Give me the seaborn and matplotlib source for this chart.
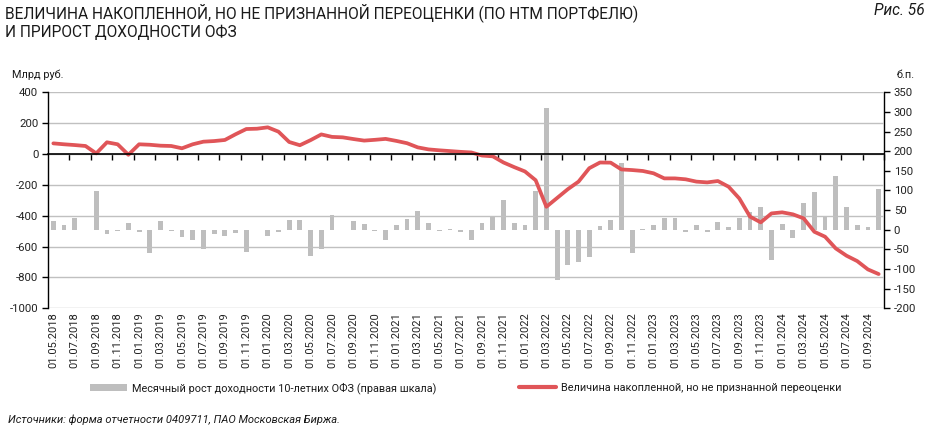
import matplotlib
matplotlib.use("Agg")
import matplotlib.pyplot as plt
import seaborn as sns
import pandas as pd
import numpy as np
from matplotlib.ticker import FixedLocator, FixedFormatter
from matplotlib.patches import Patch
from matplotlib.lines import Line2D

# ---------------- data ----------------
# monthly, 05.2018 .. 10.2024 (78 months)
yield_growth_bp = [23, 13, 31, 0, 98, -12, -2, 16, -5, -58, 22, -2, -18, -25,
                   -49, -10, -17, -7, -56, -1, -17, -5, 25, 25, -66, -48, 37,
                   -1, 22, 15, -3, -27, 13, 28, 48, 17, -2, 2, -5, -27, 17,
                   32, 76, 16, 13, 98, 310, -129, -90, -83, -69, 10, 24, 169,
                   -60, 1, 12, 29, 29, -5, 11, -5, 19, 8, 30, 46, 57, -76,
                   14, -22, 68, 96, 35, 138, 57, 11, 8, 104]

revaluation_bn = [69, 63, 58, 52, 4, 76, 63, -5, 63, 60, 54, 52, 37, 63,
                  80, 84, 91, 128, 162, 164, 173, 145, 78, 57, 90, 127, 111,
                  108, 97, 87, 92, 98, 85, 70, 43, 30, 24, 19, 14, 10, -10,
                  -15, -55, -85, -113, -170, -342, -285, -228, -179, -92, -55, -56, -100,
                  -104, -110, -125, -158, -158, -164, -179, -184, -175, -212, -288, -406, -443, -385,
                  -378, -391, -417, -504, -536, -612, -659, -694, -748, -778]

tick_labels = ["01.05.2018", "01.07.2018", "01.09.2018", "01.11.2018",
               "01.01.2019", "01.03.2019", "01.05.2019", "01.07.2019", "01.09.2019", "01.11.2019",
               "01.01.2020", "01.03.2020", "01.05.2020", "01.07.2020", "01.09.2020", "01.11.2020",
               "01.01.2021", "01.03.2021", "01.05.2021", "01.07.2021", "01.09.2021", "01.11.2021",
               "01.01.2022", "01.03.2022", "01.05.2022", "01.07.2022", "01.09.2022", "01.11.2022",
               "01.01.2023", "01.03.2023", "01.05.2023", "01.07.2023", "01.09.2023", "01.11.2023",
               "01.01.2024", "01.03.2024", "01.05.2024", "01.07.2024", "01.09.2024"]

bar_label = "Месячный рост доходности 10-летних ОФЗ (правая шкала)"
line_label = "Величина накопленной, но не признанной переоценки"

BAR_COLOR = "#BEBEBE"
LINE_COLOR = "#E05558"
GRID_COLOR = "#C0C0C0"

df = pd.DataFrame({"pos": np.arange(len(yield_growth_bp)),
                   "bp": yield_growth_bp,
                   "bn": revaluation_bn})

# ---------------- figure ----------------
sns.set_theme(style="white")
plt.rcParams["font.family"] = ["Roboto", "DejaVu Sans"]

fig = plt.figure(figsize=(9.31, 4.40), dpi=100)
ax = fig.add_axes([48 / 931, 1 - 308.3 / 440, (884 - 48) / 931, (308.3 - 92.3) / 440])
ax2 = ax.twinx()

# bars on right axis
sns.barplot(data=df, x="pos", y="bp", ax=ax2, color=BAR_COLOR, saturation=1,
            width=0.45, linewidth=0)
# line on left axis
sns.lineplot(data=df, x="pos", y="bn", ax=ax, color=LINE_COLOR, lw=2.7,
             solid_capstyle="round", solid_joinstyle="round")

ax.set_zorder(2)
ax.patch.set_visible(False)
ax2.set_zorder(1)

n = len(df)
ax.set_xlim(-0.5, n - 0.5)
ax.set_ylim(-1000, 400)
ax2.set_ylim(-200, 350)

# x ticks: labels every 2 months (centers), tick marks at boundaries on zero line
ax.xaxis.set_major_locator(FixedLocator(np.arange(0, n, 2)))
ax.xaxis.set_major_formatter(FixedFormatter(tick_labels))
ax.xaxis.set_minor_locator(FixedLocator(np.arange(1.5, n, 2)))

ax.spines["bottom"].set_position(("data", 0))
ax.spines["bottom"].set_color("black")
ax.spines["bottom"].set_linewidth(1.2)
ax.spines["bottom"].set_zorder(3)
ax.tick_params(axis="x", which="major", length=0, labelbottom=False)
ax.tick_params(axis="x", which="minor", length=4, width=1, color="black",
               direction="out", bottom=True)

ax2.xaxis.set_visible(True)
ax2.tick_params(axis="x", which="both", length=0, labelbottom=True,
                labelrotation=90, labelsize=8, pad=3, colors="#222222")

# y axes
ax.set_yticks(np.arange(-1000, 401, 200))
ax.set_yticklabels([str(v) for v in range(-1000, 401, 200)])
ax.tick_params(axis="y", length=4, width=1, color="black", direction="out",
               labelsize=8.2, pad=3, left=True, labelcolor="#222222")
ax2.set_yticks(np.arange(-200, 351, 50))
ax2.set_yticklabels([str(v) for v in range(-200, 351, 50)])
ax2.tick_params(axis="y", length=4, width=1, color="black", direction="out",
                labelsize=8.2, pad=3, right=True, labelcolor="#222222")

ax.yaxis.grid(True, color=GRID_COLOR, lw=1)
ax.xaxis.grid(False)
ax2.grid(False)

for s in ["top", "right"]:
    ax.spines[s].set_visible(False)
ax.spines["left"].set_color("black")
ax.spines["left"].set_linewidth(1)
for s in ["top", "left", "bottom"]:
    ax2.spines[s].set_visible(False)
ax2.spines["right"].set_visible(True)
ax2.spines["right"].set_color("black")
ax2.spines["right"].set_linewidth(1)

ax.set_xlabel("")
ax.set_ylabel("")
ax2.set_xlabel("")
ax2.set_ylabel("")

# ---------------- texts ----------------
fig.text(5 / 931, 1 - 3 / 440,
         "ВЕЛИЧИНА НАКОПЛЕННОЙ, НО НЕ ПРИЗНАННОЙ ПЕРЕОЦЕНКИ (ПО НТМ ПОРТФЕЛЮ)\nИ ПРИРОСТ ДОХОДНОСТИ ОФЗ",
         ha="left", va="top", fontsize=11.2, color="#1a1a1a", linespacing=1.2)
fig.text(925 / 931, 1 - 3 / 440, "Рис. 56", ha="right", va="top",
         fontsize=11.2, style="italic", color="#1a1a1a")
fig.text(12 / 931, 1 - 75 / 440, "Млрд руб.", ha="left", va="center",
         fontsize=7.8, color="#1a1a1a")
fig.text(906 / 931, 1 - 75 / 440, "б.п.", ha="center", va="center",
         fontsize=7.8, color="#1a1a1a")
fig.text(8 / 931, 1 - 420 / 440,
         "Источники: форма отчетности 0409711, ПАО Московская Биржа.",
         ha="left", va="center", fontsize=8, style="italic", color="#1a1a1a")

handles = [Patch(facecolor=BAR_COLOR, edgecolor="none"),
           Line2D([0], [0], color=LINE_COLOR, lw=3)]
fig.legend(handles, [bar_label, line_label], ncol=2, loc="center",
           bbox_to_anchor=(466 / 931, 1 - 388 / 440), frameon=False,
           fontsize=7.8, handlelength=3.4, handletextpad=0.5,
           columnspacing=7.6, labelcolor="#1a1a1a")

fig.savefig("out.png", dpi=100, facecolor="white")
